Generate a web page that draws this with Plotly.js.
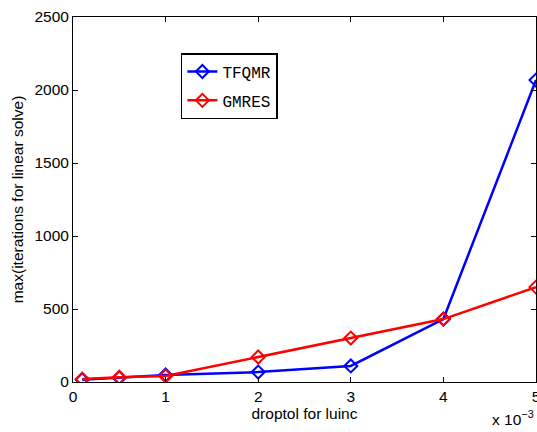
<!DOCTYPE html>
<html>
<head>
<meta charset="utf-8">
<script src="https://cdn.plot.ly/plotly-3.0.1.min.js"></script>
<style>html,body{margin:0;padding:0;background:#fff;}#chart{width:537px;height:432px;}</style>
</head>
<body>
<div id="chart"></div>
<script>
// droptol values in units of 1e-3
const droptol = [0.1, 0.5, 1, 2, 3, 4, 5];
const tfqmr = [15, 28, 48, 68, 110, 431, 2068];
const gmres = [20, 33, 41, 171, 301, 431, 650];
const xTicks = [0, 1, 2, 3, 4, 5];
const yTicks = [0, 500, 1000, 1500, 2000, 2500];

const font = {family: 'Liberation Sans, Arial, sans-serif', size: 15.5, color: '#000'};

const traces = [
  {x: droptol, y: tfqmr, name: 'TFQMR', legendgroup: 'a', mode: 'lines+markers', type: 'scatter',
   line: {color: '#0000ff', width: 2.5},
   marker: {symbol: 'diamond-open', size: 10, color: '#0000ff', line: {width: 2, color: '#0000ff'}}},
  {x: droptol, y: gmres, name: 'GMRES', legendgroup: 'b', mode: 'lines+markers', type: 'scatter',
   line: {color: '#ff0000', width: 2.5},
   marker: {symbol: 'diamond-open', size: 10, color: '#ff0000', line: {width: 2, color: '#ff0000'}}}
];

const axisCommon = {
  showline: true, linecolor: '#000', linewidth: 1, mirror: 'ticks',
  ticks: 'inside', ticklen: 5, tickcolor: '#000', tickwidth: 1,
  showgrid: false, zeroline: false, tickfont: font, ticklabeloverflow: 'allow'
};

const layout = {
  width: 537, height: 432,
  margin: {l: 73, r: 1, t: 17, b: 50},
  paper_bgcolor: '#fff', plot_bgcolor: '#fff',
  font: font,
  showlegend: true,
  legend: {
    x: 0.233, y: 0.901, xanchor: 'left', yanchor: 'top',
    bordercolor: '#000', borderwidth: 1.5, bgcolor: '#fff',
    font: {family: 'Liberation Mono, Courier New, monospace', size: 16, color: '#000'},
    traceorder: 'grouped', tracegroupgap: 5
  },
  xaxis: Object.assign({}, axisCommon, {
    range: [0, 5], tickvals: xTicks, ticktext: xTicks.map(String),
    title: {text: 'droptol for luinc', font: font, standoff: 2}
  }),
  yaxis: Object.assign({}, axisCommon, {
    range: [0, 2500], tickvals: yTicks, ticktext: yTicks.map(String),
    title: {text: 'max(iterations for linear solve)', font: font, standoff: 6}
  }),
  annotations: [{
    xref: 'paper', yref: 'paper', x: 1.0, y: 0, yshift: -24, xanchor: 'right', yanchor: 'top',
    text: 'x 10<sup>\u22123</sup>', showarrow: false, font: font
  }]
};

Plotly.newPlot('chart', traces, layout, {displayModeBar: false, staticPlot: true});
</script>
</body>
</html>
